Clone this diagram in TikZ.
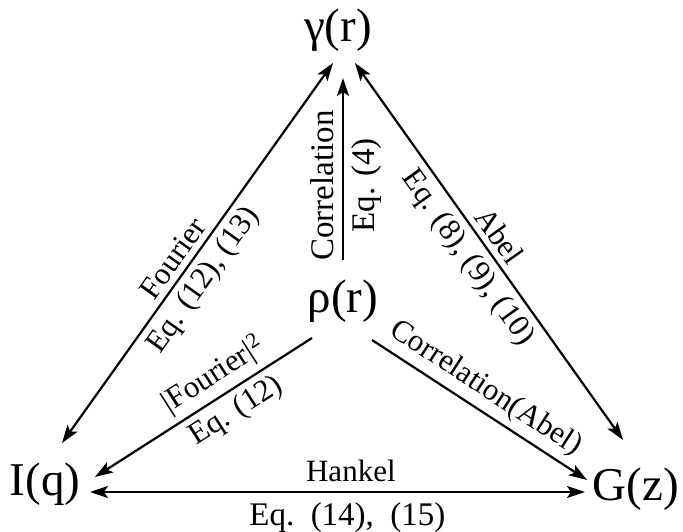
\documentclass[tikz,border=0pt]{standalone}
\usepackage{fontspec}
\setmainfont{Liberation Serif}
\usetikzlibrary{arrows.meta}
\begin{document}
\begin{tikzpicture}[x=1pt,y=-1pt,
  big/.style={font=\fontsize{47}{50}\selectfont, inner sep=0pt, anchor=base},
  lbl/.style={font=\fontsize{31}{34}\selectfont, inner sep=1pt},
  lblb/.style={font=\fontsize{33}{36}\selectfont, inner sep=1pt},
  tip/.tip={Stealth[length=18pt,width=12pt,inset=4pt]},
  conn/.style={line width=2.2pt, -tip},
  dconn/.style={line width=2.2pt, tip-tip}]
\useasboundingbox (0,0) rectangle (683,532);
\node[big] (gamma) at (338,42) {γ(r)};
\node[big] (rho) at (343,312) {ρ(r)};
\node[big] (Iq) at (45,495) {I(q)};
\node[big] (Gz) at (636,500) {G(z)};
\coordinate (gL) at (333,63);
\coordinate (gM) at (343,78);
\coordinate (gR) at (355,63);
\coordinate (rT) at (343,260);
\coordinate (rL) at (312,338);
\coordinate (rR) at (372,340);
\coordinate (iT) at (62,443);
\coordinate (iR1) at (95,477);
\coordinate (iR2) at (90,492);
\coordinate (zT) at (623,440);
\coordinate (zL1) at (587,480);
\coordinate (zL2) at (585,492);
\draw[dconn] (iT) -- (gL)
  node[lbl, sloped, above=5pt, pos=0.46] (fo) {Fourier}
  node[lbl, sloped, below=5pt, pos=0.46] (e1213) {Eq. (12), (13)};
\draw[conn] (rT) -- (gM)
  node[lblb, sloped, above=7pt, pos=0.41] (co) {Correlation}
  node[lblb, sloped, below=6pt, pos=0.41] (e4) {Eq. (4)};
\draw[dconn] (gR) -- (zT)
  node[lbl, sloped, above=5pt, pos=0.485] (ab) {Abel}
  node[lbl, sloped, below=5pt, pos=0.485] (e8) {Eq. (8), (9), (10)};
\draw[conn] (rL) -- (iR1)
  node[lbl, sloped, above=5pt, pos=0.4] (f2) {|Fourier|\textsuperscript{2}}
  node[lbl, sloped, below=5pt, pos=0.4] (e12) {Eq. (12)};
\draw[conn] (rR) -- (zL1)
  node[lbl, sloped, above=5pt, pos=0.475] (ca) {Correlation(Abel)};
\draw[dconn] (iR2) -- (zL2)
  node[lbl, above=8pt, pos=0.527] (hk) {Hankel}
  node[lblb, below=8pt, pos=0.52] (e1415) {Eq.\hspace{0.5em}(14),\hspace{0.5em}(15)};
\end{tikzpicture}
\end{document}
